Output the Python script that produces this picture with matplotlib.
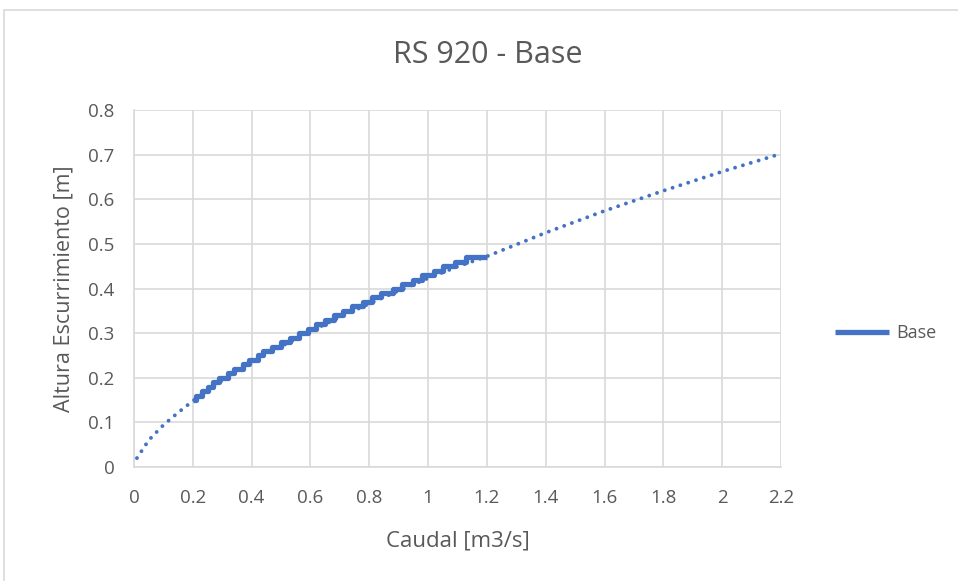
import matplotlib.pyplot as plt
from matplotlib.patches import Rectangle

# measured series: stair-stepped heights (rounded to 0.01 m) and where each level begins
step_x = [0.20, 0.21, 0.23, 0.25, 0.27, 0.29, 0.32, 0.34, 0.37, 0.39, 0.42,
          0.44, 0.47, 0.50, 0.53, 0.56, 0.59, 0.62, 0.65, 0.68, 0.71, 0.74,
          0.78, 0.81, 0.84, 0.88, 0.91, 0.95, 0.98, 1.02, 1.05, 1.09, 1.13, 1.20]
step_y = [0.15, 0.16, 0.17, 0.18, 0.19, 0.20, 0.21, 0.22, 0.23, 0.24, 0.25,
          0.26, 0.27, 0.28, 0.29, 0.30, 0.31, 0.32, 0.33, 0.34, 0.35, 0.36,
          0.37, 0.38, 0.39, 0.40, 0.41, 0.42, 0.43, 0.44, 0.45, 0.46, 0.47, 0.47]

# dotted trend line
trend_x = [0.01, 0.05, 0.1, 0.15, 0.2, 0.3, 0.4, 0.5, 0.6, 0.7, 0.8, 0.9,
           1.0, 1.1, 1.2, 1.4, 1.6, 1.8, 2.0, 2.2]
trend_y = [0.02, 0.06, 0.094, 0.122, 0.148, 0.194, 0.234, 0.27, 0.304, 0.336,
           0.366, 0.395, 0.423, 0.449, 0.472, 0.525, 0.574, 0.619, 0.662, 0.702]

x_ticks = [0, 0.2, 0.4, 0.6, 0.8, 1.0, 1.2, 1.4, 1.6, 1.8, 2.0, 2.2]
y_ticks = [0, 0.1, 0.2, 0.3, 0.4, 0.5, 0.6, 0.7, 0.8]

blue = "#4472c4"
grid_col = "#d9d9d9"
text_col = "#595959"

plt.rcParams['font.family'] = ['Open Sans', 'DejaVu Sans']

fig = plt.figure(figsize=(9.58, 5.81), dpi=100)
fig.patches.append(Rectangle((4 / 958, -0.1), 1.2, 1 - 10 / 581 + 0.1,
                             transform=fig.transFigure, fill=False,
                             edgecolor=grid_col, linewidth=1.2))
ax = fig.add_axes([134 / 958, 1 - 467 / 581, (781 - 134) / 958, (467 - 110) / 581])

ax.plot(trend_x, trend_y, color=blue, linewidth=2.8,
        linestyle=(0, (0.01, 2.1)), dash_capstyle='round', zorder=3)
ax.plot(step_x, step_y, color=blue, linewidth=3.8, drawstyle='steps-post',
        solid_capstyle='butt', zorder=4, label="Base")

ax.set_xlim(0, 2.2)
ax.set_ylim(0, 0.8)
ax.set_xticks(x_ticks)
ax.set_yticks(y_ticks)
ax.set_xticklabels(["%g" % v for v in x_ticks])
ax.set_yticklabels(["%g" % v for v in y_ticks])
ax.tick_params(length=0, labelsize=13.5, colors=text_col)
ax.tick_params(axis='x', pad=16)
ax.tick_params(axis='y', pad=14)
ax.grid(True, color=grid_col, linewidth=1.2)
ax.set_axisbelow(True)
for side in ["top", "right"]:
    ax.spines[side].set_visible(False)
for side in ["left", "bottom"]:
    ax.spines[side].set_color(grid_col)
    ax.spines[side].set_linewidth(1.2)

# title is centred over the whole chart area, not the plot
fig.text(488 / 958, 1 - 55 / 581, "RS 920 - Base", fontsize=22, color=text_col,
         ha='center', va='center')
ax.set_xlabel("Caudal [m3/s]", fontsize=16, color=text_col, labelpad=17)
ax.set_ylabel("Altura Escurrimiento [m]", fontsize=15.5, color=text_col, labelpad=10)

fig.legend(loc='center left', bbox_to_anchor=(819 / 958, 1 - 333 / 581),
           frameon=False, fontsize=13, labelcolor=text_col,
           handlelength=3.0, handletextpad=0.4)

fig.savefig("out.png", dpi=100)
